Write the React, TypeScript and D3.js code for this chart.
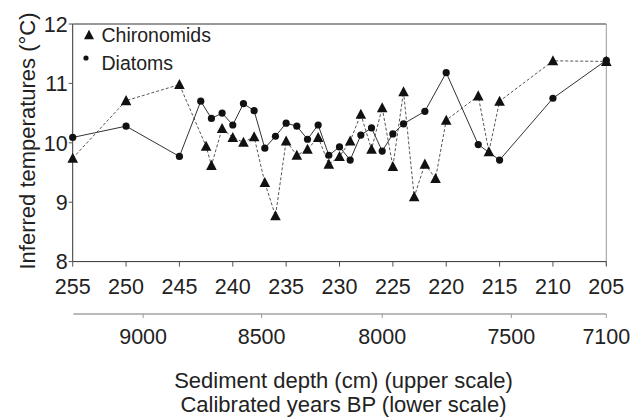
import React from "react";
import * as d3 from "d3";

const chiroDepth = [255, 250, 245, 242.5, 242, 241, 240, 239, 238, 237, 236, 235, 234, 233, 232, 231, 230, 229, 228, 227, 226, 225, 224, 223, 222, 221, 220, 217, 216, 215, 210, 205];
const chiroTemp = [9.74, 10.71, 10.98, 9.94, 9.62, 10.24, 10.09, 10.01, 10.1, 9.33, 8.77, 10.03, 9.79, 9.89, 10.09, 9.64, 9.77, 10.03, 10.48, 9.89, 10.59, 9.6, 10.86, 9.09, 9.64, 9.4, 10.38, 10.79, 9.85, 10.7, 11.38, 11.37];

const diatomDepth = [255, 250, 245, 243, 242, 241, 240, 239, 238, 237, 236, 235, 234, 233, 232, 231, 230, 229, 228, 227, 226, 225, 224, 222, 220, 217, 215, 210, 205];
const diatomTemp = [10.09, 10.28, 9.77, 10.7, 10.41, 10.5, 10.3, 10.66, 10.54, 9.91, 10.11, 10.33, 10.28, 10.06, 10.3, 9.79, 9.93, 9.71, 10.13, 10.25, 9.86, 10.15, 10.32, 10.53, 11.18, 9.97, 9.71, 10.75, 11.39];

const depthTicks = [255, 250, 245, 240, 235, 230, 225, 220, 215, 210, 205];
const tempTicks = [8, 9, 10, 11, 12];
const ageTicks = [9000, 8500, 8000, 7500, 7100];
const ageTickDepths = [248.4, 237.3, 226.0, 213.9, 205];

const FONT = "'Liberation Sans', Arial, Helvetica, sans-serif";

export default function App() {
  const W = 638, H = 419;
  const left = 72.7, right = 606.3, top = 24, bottom = 261.6;
  const x = d3.scaleLinear().domain([255, 205]).range([left, right]);
  const y = d3.scaleLinear().domain([8, 12]).range([bottom, top]);
  const lowerY = 314;

  const chiro = chiroDepth.map((d, i) => [d, chiroTemp[i]] as [number, number]);
  const diat = diatomDepth.map((d, i) => [d, diatomTemp[i]] as [number, number]);
  const line = d3.line<[number, number]>().x(d => x(d[0])).y(d => y(d[1]));

  const tri = (cx: number, cy: number, s = 5.3) =>
    `M${cx},${cy - s * 1.05} L${cx + s},${cy + s * 0.85} L${cx - s},${cy + s * 0.85} Z`;

  return (
    <svg width={W} height={H} style={{ position: "absolute", left: 0, top: 0, background: "#fff" }} fontFamily={FONT}>
      <rect x={0} y={0} width={W} height={H} fill="#fff" />
      {/* frame */}
      <line x1={left} x2={right} y1={top} y2={top} stroke="#333" strokeWidth={1} />
      <line x1={right} x2={right} y1={top} y2={bottom + 4} stroke="#999" strokeWidth={1} />
      <line x1={left} x2={left} y1={top} y2={bottom} stroke="#333" strokeWidth={1} />
      <line x1={left} x2={right} y1={bottom} y2={bottom} stroke="#333" strokeWidth={1} />
      {/* y ticks */}
      {tempTicks.map(t => (
        <g key={t}>
          <line x1={left - 4} x2={left} y1={y(t)} y2={y(t)} stroke="#555" />
          <text x={left - 5} y={y(t)} dy="0.36em" textAnchor="end" fontSize={21.5} fill="#222">{t}</text>
        </g>
      ))}
      {/* x ticks upper */}
      {depthTicks.map(t => (
        <g key={t}>
          <line x1={x(t)} x2={x(t)} y1={bottom} y2={bottom + 5} stroke="#555" />
          <text x={x(t)} y={294} textAnchor="middle" fontSize={21.5} fill="#222">{t}</text>
        </g>
      ))}
      {/* lower axis */}
      <line x1={left + 0.6} x2={x(205)} y1={lowerY} y2={lowerY} stroke="#777" strokeWidth={1.2} />
      {ageTicks.map((a, i) => (
        <g key={a}>
          <line x1={x(ageTickDepths[i])} x2={x(ageTickDepths[i])} y1={lowerY} y2={lowerY + 4} stroke="#999" />
          <text x={x(ageTickDepths[i])} y={344} textAnchor="middle" fontSize={21.5} fill="#222">{a}</text>
        </g>
      ))}
      {/* series */}
      <path d={line(chiro) || ""} fill="none" stroke="#555" strokeWidth={1} strokeDasharray="3,2" />
      <path d={line(diat) || ""} fill="none" stroke="#333" strokeWidth={1} />
      {diat.map((d, i) => (
        <circle key={i} cx={x(d[0])} cy={y(d[1])} r={3.6} fill="#111" />
      ))}
      {chiro.map((d, i) => (
        <path key={i} d={tri(x(d[0]), y(d[1]))} fill="#111" />
      ))}
      {/* legend */}
      <path d={tri(89, 35, 5)} fill="#111" />
      <text x={101.5} y={35} dy="0.36em" fontSize={19.5} fill="#222">Chironomids</text>
      <circle cx={86} cy={58} r={2.6} fill="#111" />
      <text x={101.5} y={63} dy="0.36em" fontSize={19.5} fill="#222">Diatoms</text>
      {/* axis titles */}
      <text transform={`translate(34.5,141) rotate(-90)`} textAnchor="middle" fontSize={22} fill="#222">Inferred temperatures (°C)</text>
      <text x={343.5} y={387.5} textAnchor="middle" fontSize={22} fill="#222">Sediment depth (cm) (upper scale)</text>
      <text x={343.5} y={412} textAnchor="middle" fontSize={22} fill="#222">Calibrated years BP (lower scale)</text>
    </svg>
  );
}
